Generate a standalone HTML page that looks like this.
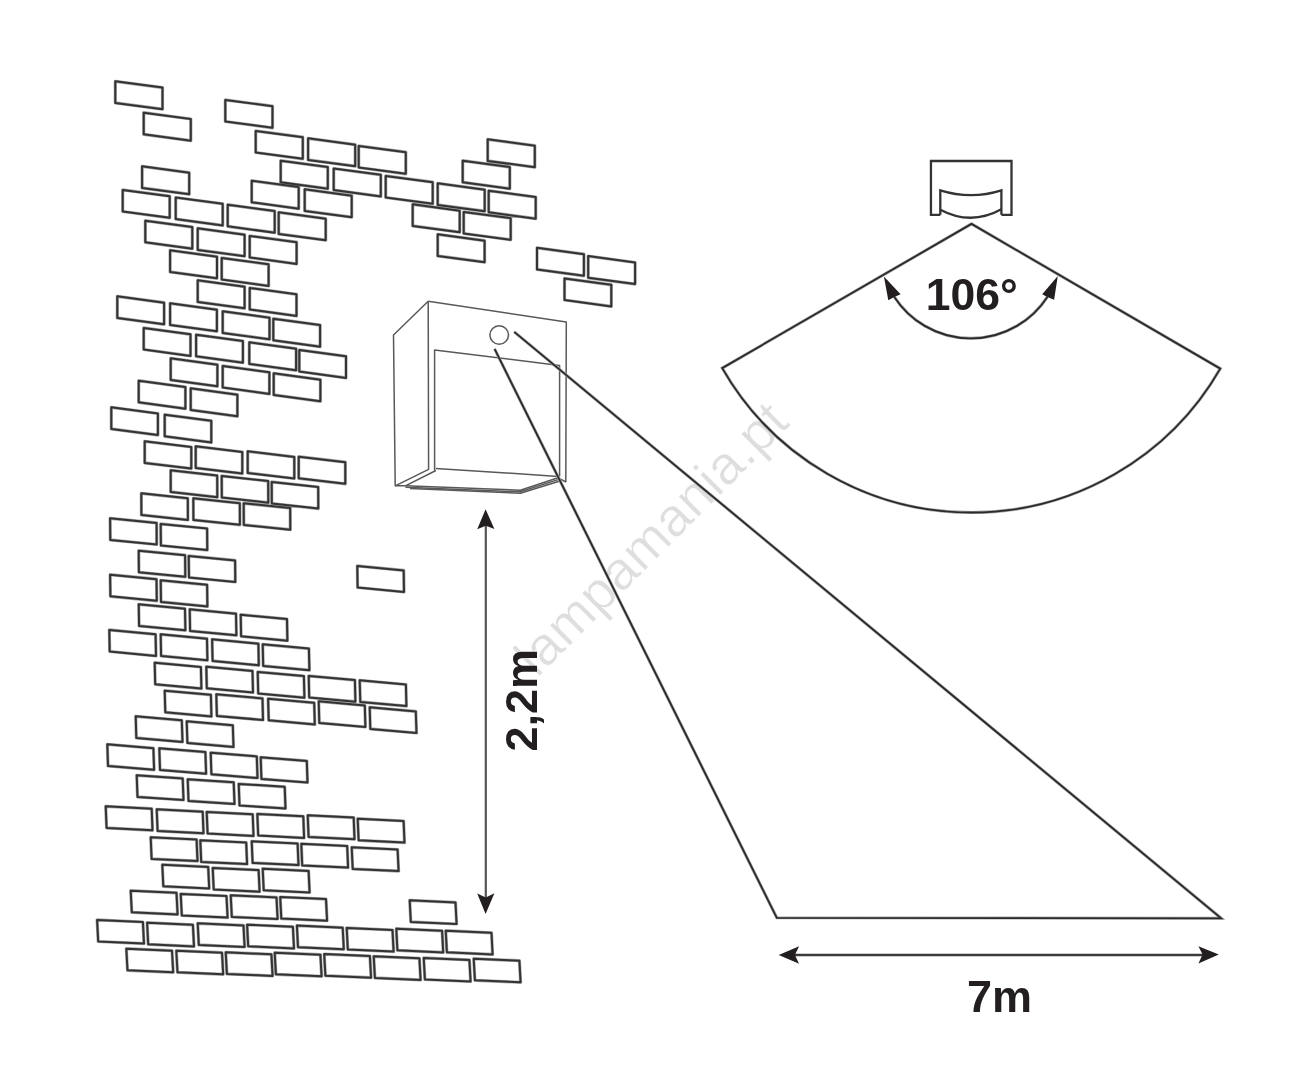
<!DOCTYPE html>
<html><head><meta charset="utf-8">
<style>
html,body{margin:0;padding:0;background:#fff;}
body{width:1306px;height:1080px;overflow:hidden;position:relative;}
svg{position:absolute;left:0;top:0;will-change:transform;}

</style></head><body>
<svg width="1306" height="1080" viewBox="0 0 1306 1080">
<!-- watermark -->
<text x="0" y="0" transform="translate(537,678.5) rotate(-45)" font-family="Liberation Sans, sans-serif" font-size="54" letter-spacing="0.42" fill="#dedede" stroke="#fff" stroke-width="0.5">lampamania.pt</text>
<!-- bricks -->
<path d="M115.3 81.3L162.5 87.6L162.5 109.2L115.3 102.9ZM143.7 112.7L190.8 119.0L190.8 140.7L143.7 134.3ZM225.3 99.9L272.5 106.2L272.5 127.8L225.3 121.5ZM255.7 130.9L302.8 137.2L302.8 158.8L255.7 152.5ZM308.1 138.3L355.2 144.7L355.2 166.2L308.1 159.9ZM358.7 145.9L405.8 152.2L405.8 173.8L358.7 167.5ZM487.7 139.3L534.8 145.7L534.8 167.2L487.7 160.9ZM280.7 160.7L327.8 167.1L327.8 188.7L280.7 182.3ZM333.7 168.5L380.8 174.8L380.8 196.4L333.7 190.1ZM385.7 175.9L432.7 182.2L432.7 203.8L385.7 197.5ZM437.7 183.3L484.7 189.7L484.7 211.2L437.7 204.9ZM462.7 160.7L509.8 167.1L509.8 188.7L462.7 182.3ZM142.1 166.3L189.2 172.7L189.2 194.2L142.1 187.9ZM251.7 180.7L298.7 187.1L298.7 208.7L251.7 202.3ZM304.7 189.3L351.7 195.7L351.7 217.2L304.7 210.9ZM488.7 190.7L535.7 197.1L535.7 218.7L488.7 212.3ZM122.7 189.9L169.7 196.2L169.7 217.8L122.7 211.5ZM175.7 197.5L222.7 203.8L222.7 225.4L175.7 219.1ZM227.7 204.7L274.7 211.1L274.7 232.7L227.7 226.3ZM278.7 212.3L325.7 218.7L325.7 240.2L278.7 233.9ZM412.7 204.3L459.7 210.7L459.7 232.2L412.7 225.9ZM463.7 211.9L510.7 218.2L510.7 239.8L463.7 233.5ZM145.3 220.7L192.3 227.1L192.3 248.7L145.3 242.3ZM197.7 228.3L244.6 234.7L244.6 256.2L197.7 249.9ZM249.7 235.9L296.6 242.2L296.6 263.9L249.7 257.5ZM437.7 234.3L484.6 240.7L484.6 262.2L437.7 255.9ZM170.1 250.3L217.0 256.7L217.0 278.3L170.1 271.9ZM221.7 257.9L268.6 264.3L268.6 285.9L221.7 279.5ZM537.0 247.8L583.9 254.2L583.9 275.8L537.0 269.4ZM588.2 256.1L635.1 262.5L635.1 284.1L588.2 277.8ZM564.5 278.4L611.3 284.8L611.3 306.4L564.5 300.0ZM197.7 280.3L244.6 286.7L244.6 308.3L197.7 301.9ZM249.7 287.9L296.5 294.3L296.5 315.9L249.7 309.5ZM117.3 296.3L164.1 302.7L164.1 324.3L117.3 317.9ZM170.1 303.3L216.9 309.7L216.9 331.3L170.1 324.9ZM222.7 311.3L269.5 317.7L269.5 339.3L222.7 332.9ZM273.3 318.7L320.1 325.1L320.1 346.7L273.3 340.3ZM143.7 327.9L190.5 334.3L190.5 355.9L143.7 349.5ZM196.1 334.7L242.9 341.1L242.9 362.7L196.1 356.3ZM249.3 342.3L296.1 348.7L296.1 370.3L249.3 363.9ZM299.3 349.9L346.0 356.3L346.0 377.9L299.3 371.5ZM170.7 358.3L217.4 364.7L217.4 386.3L170.7 379.9ZM222.7 365.9L269.4 372.3L269.4 393.9L222.7 387.5ZM273.7 373.3L320.4 379.7L320.4 401.3L273.7 394.9ZM138.7 380.7L185.4 387.1L185.4 408.7L138.7 402.3ZM190.7 388.3L237.4 394.7L237.4 416.3L190.7 409.9ZM111.3 407.3L157.9 413.5L157.9 435.1L111.3 428.9ZM164.7 414.7L211.3 420.8L211.3 442.4L164.7 436.3ZM144.7 441.3L191.3 447.0L191.3 468.6L144.7 462.9ZM195.7 446.3L242.3 452.0L242.3 473.6L195.7 467.9ZM247.7 451.3L294.3 456.9L294.3 478.5L247.7 472.9ZM298.7 456.7L345.3 462.2L345.3 483.8L298.7 478.3ZM170.7 470.3L217.2 475.6L217.3 497.2L170.7 491.9ZM221.7 475.9L268.2 481.1L268.3 502.7L221.8 497.5ZM271.7 481.9L318.2 487.0L318.3 508.6L271.8 503.5ZM141.3 493.3L187.8 498.3L187.9 519.9L141.4 514.9ZM193.3 498.3L239.8 503.2L239.9 524.8L193.4 519.9ZM243.7 503.3L290.2 508.1L290.3 529.7L243.8 524.9ZM110.1 518.3L156.6 522.9L156.7 544.5L110.3 539.9ZM160.7 523.9L207.1 528.5L207.3 550.1L160.9 545.5ZM138.7 550.7L185.1 555.2L185.3 576.8L138.9 572.3ZM188.7 555.9L235.1 560.4L235.3 582.0L189.0 577.5ZM357.3 565.9L403.7 570.4L404.0 592.0L357.6 587.5ZM110.1 574.7L156.5 579.2L156.8 600.8L110.4 596.3ZM160.7 580.3L207.1 584.8L207.4 606.4L161.0 601.9ZM138.7 604.3L185.0 608.7L185.4 630.3L139.1 625.9ZM189.7 609.3L236.0 613.7L236.4 635.3L190.1 630.9ZM240.7 614.7L287.0 619.1L287.4 640.7L241.1 636.3ZM109.3 629.9L155.6 634.3L156.0 655.9L109.7 651.5ZM160.7 634.3L207.0 638.7L207.4 660.3L161.1 655.9ZM212.1 639.3L258.4 643.7L258.8 665.3L212.6 660.9ZM262.7 644.3L308.9 648.6L309.4 670.2L263.2 665.9ZM154.7 662.7L200.9 667.0L201.4 688.6L155.2 684.3ZM206.3 666.7L252.5 670.9L253.0 692.5L206.8 688.3ZM257.7 671.9L303.9 676.1L304.4 697.7L258.2 693.5ZM308.7 675.9L354.9 680.1L355.4 701.7L309.2 697.5ZM359.7 680.3L405.9 684.5L406.4 706.1L360.3 701.9ZM164.7 690.7L210.9 694.8L211.4 716.4L165.3 712.3ZM216.3 694.3L262.5 698.4L263.0 720.0L216.9 715.9ZM268.1 698.7L314.2 702.8L314.8 724.4L268.7 720.3ZM318.7 701.3L364.8 705.4L365.4 727.0L319.3 722.9ZM369.7 707.3L415.8 711.4L416.5 733.0L370.3 728.9ZM135.7 716.3L181.8 720.3L182.5 741.9L136.3 737.9ZM186.7 721.3L232.8 725.3L233.5 746.9L187.4 742.9ZM107.3 744.3L153.4 748.2L154.1 769.8L108.0 765.9ZM159.3 748.3L205.4 752.1L206.1 773.7L160.0 769.9ZM210.7 752.7L256.8 756.4L257.5 778.0L211.4 774.3ZM260.7 757.3L306.8 760.9L307.5 782.5L261.4 778.9ZM136.7 775.3L182.7 778.4L183.5 800.0L137.5 796.9ZM187.7 779.3L233.7 782.3L234.5 803.9L188.5 800.9ZM238.7 783.9L284.7 786.8L285.5 808.4L239.5 805.5ZM105.7 806.3L151.7 808.7L152.5 830.3L106.6 827.9ZM156.7 809.3L202.7 811.7L203.5 833.3L157.6 830.9ZM206.7 811.9L252.7 814.3L253.5 835.9L207.6 833.5ZM257.3 813.9L303.3 816.3L304.1 837.9L258.2 835.5ZM307.7 815.3L353.7 817.6L354.5 839.2L308.6 836.9ZM357.7 818.7L403.6 821.0L404.5 842.6L358.6 840.3ZM150.7 837.3L196.6 839.5L197.5 861.1L151.6 858.9ZM200.3 840.3L246.2 842.5L247.1 864.1L201.2 861.9ZM251.7 841.3L297.6 843.5L298.5 865.1L252.6 862.9ZM301.3 843.8L347.2 846.0L348.1 867.6L302.2 865.4ZM351.7 847.3L397.6 849.5L398.6 871.1L352.7 868.9ZM162.3 864.7L208.2 866.9L209.2 888.5L163.3 886.3ZM212.7 867.9L258.6 870.1L259.6 891.7L213.7 889.5ZM262.7 868.7L308.6 870.9L309.6 892.5L263.7 890.3ZM130.7 890.7L176.5 892.8L177.6 914.4L131.8 912.3ZM180.7 893.9L226.5 896.0L227.6 917.6L181.8 915.5ZM230.7 895.3L276.5 897.4L277.6 919.0L231.8 916.9ZM280.2 897.0L326.0 899.1L327.1 920.7L281.3 918.6ZM409.7 900.3L455.5 902.4L456.6 924.0L410.8 921.9ZM97.1 919.9L142.9 922.0L144.0 943.6L98.2 941.5ZM147.1 922.7L192.9 924.8L194.0 946.4L148.2 944.3ZM197.7 923.3L243.5 925.4L244.6 947.0L198.8 944.9ZM247.1 924.7L292.9 926.8L294.0 948.4L248.2 946.3ZM296.9 925.6L342.7 927.7L343.8 949.3L298.0 947.2ZM346.7 927.9L392.5 930.0L393.6 951.6L347.8 949.5ZM396.3 928.7L442.1 930.8L443.2 952.4L397.4 950.3ZM445.7 930.7L491.5 932.8L492.6 954.4L446.9 952.3ZM126.3 948.7L172.0 950.7L173.2 972.3L127.5 970.3ZM176.3 950.7L222.0 952.7L223.2 974.3L177.5 972.3ZM225.7 952.3L271.4 954.3L272.6 975.9L226.9 973.9ZM274.7 952.7L320.4 954.7L321.6 976.3L275.9 974.3ZM324.2 954.1L369.9 956.1L371.1 977.7L325.4 975.7ZM373.7 956.3L419.4 958.3L420.6 979.9L374.9 977.9ZM423.7 957.9L469.4 959.9L470.6 981.5L424.9 979.5ZM473.7 958.7L519.4 960.7L520.6 982.3L474.9 980.3Z" fill="none" stroke="#a8a8a8" stroke-width="3.2" stroke-linejoin="round"/>
<path d="M115.3 81.3L162.5 87.6L162.5 109.2L115.3 102.9ZM143.7 112.7L190.8 119.0L190.8 140.7L143.7 134.3ZM225.3 99.9L272.5 106.2L272.5 127.8L225.3 121.5ZM255.7 130.9L302.8 137.2L302.8 158.8L255.7 152.5ZM308.1 138.3L355.2 144.7L355.2 166.2L308.1 159.9ZM358.7 145.9L405.8 152.2L405.8 173.8L358.7 167.5ZM487.7 139.3L534.8 145.7L534.8 167.2L487.7 160.9ZM280.7 160.7L327.8 167.1L327.8 188.7L280.7 182.3ZM333.7 168.5L380.8 174.8L380.8 196.4L333.7 190.1ZM385.7 175.9L432.7 182.2L432.7 203.8L385.7 197.5ZM437.7 183.3L484.7 189.7L484.7 211.2L437.7 204.9ZM462.7 160.7L509.8 167.1L509.8 188.7L462.7 182.3ZM142.1 166.3L189.2 172.7L189.2 194.2L142.1 187.9ZM251.7 180.7L298.7 187.1L298.7 208.7L251.7 202.3ZM304.7 189.3L351.7 195.7L351.7 217.2L304.7 210.9ZM488.7 190.7L535.7 197.1L535.7 218.7L488.7 212.3ZM122.7 189.9L169.7 196.2L169.7 217.8L122.7 211.5ZM175.7 197.5L222.7 203.8L222.7 225.4L175.7 219.1ZM227.7 204.7L274.7 211.1L274.7 232.7L227.7 226.3ZM278.7 212.3L325.7 218.7L325.7 240.2L278.7 233.9ZM412.7 204.3L459.7 210.7L459.7 232.2L412.7 225.9ZM463.7 211.9L510.7 218.2L510.7 239.8L463.7 233.5ZM145.3 220.7L192.3 227.1L192.3 248.7L145.3 242.3ZM197.7 228.3L244.6 234.7L244.6 256.2L197.7 249.9ZM249.7 235.9L296.6 242.2L296.6 263.9L249.7 257.5ZM437.7 234.3L484.6 240.7L484.6 262.2L437.7 255.9ZM170.1 250.3L217.0 256.7L217.0 278.3L170.1 271.9ZM221.7 257.9L268.6 264.3L268.6 285.9L221.7 279.5ZM537.0 247.8L583.9 254.2L583.9 275.8L537.0 269.4ZM588.2 256.1L635.1 262.5L635.1 284.1L588.2 277.8ZM564.5 278.4L611.3 284.8L611.3 306.4L564.5 300.0ZM197.7 280.3L244.6 286.7L244.6 308.3L197.7 301.9ZM249.7 287.9L296.5 294.3L296.5 315.9L249.7 309.5ZM117.3 296.3L164.1 302.7L164.1 324.3L117.3 317.9ZM170.1 303.3L216.9 309.7L216.9 331.3L170.1 324.9ZM222.7 311.3L269.5 317.7L269.5 339.3L222.7 332.9ZM273.3 318.7L320.1 325.1L320.1 346.7L273.3 340.3ZM143.7 327.9L190.5 334.3L190.5 355.9L143.7 349.5ZM196.1 334.7L242.9 341.1L242.9 362.7L196.1 356.3ZM249.3 342.3L296.1 348.7L296.1 370.3L249.3 363.9ZM299.3 349.9L346.0 356.3L346.0 377.9L299.3 371.5ZM170.7 358.3L217.4 364.7L217.4 386.3L170.7 379.9ZM222.7 365.9L269.4 372.3L269.4 393.9L222.7 387.5ZM273.7 373.3L320.4 379.7L320.4 401.3L273.7 394.9ZM138.7 380.7L185.4 387.1L185.4 408.7L138.7 402.3ZM190.7 388.3L237.4 394.7L237.4 416.3L190.7 409.9ZM111.3 407.3L157.9 413.5L157.9 435.1L111.3 428.9ZM164.7 414.7L211.3 420.8L211.3 442.4L164.7 436.3ZM144.7 441.3L191.3 447.0L191.3 468.6L144.7 462.9ZM195.7 446.3L242.3 452.0L242.3 473.6L195.7 467.9ZM247.7 451.3L294.3 456.9L294.3 478.5L247.7 472.9ZM298.7 456.7L345.3 462.2L345.3 483.8L298.7 478.3ZM170.7 470.3L217.2 475.6L217.3 497.2L170.7 491.9ZM221.7 475.9L268.2 481.1L268.3 502.7L221.8 497.5ZM271.7 481.9L318.2 487.0L318.3 508.6L271.8 503.5ZM141.3 493.3L187.8 498.3L187.9 519.9L141.4 514.9ZM193.3 498.3L239.8 503.2L239.9 524.8L193.4 519.9ZM243.7 503.3L290.2 508.1L290.3 529.7L243.8 524.9ZM110.1 518.3L156.6 522.9L156.7 544.5L110.3 539.9ZM160.7 523.9L207.1 528.5L207.3 550.1L160.9 545.5ZM138.7 550.7L185.1 555.2L185.3 576.8L138.9 572.3ZM188.7 555.9L235.1 560.4L235.3 582.0L189.0 577.5ZM357.3 565.9L403.7 570.4L404.0 592.0L357.6 587.5ZM110.1 574.7L156.5 579.2L156.8 600.8L110.4 596.3ZM160.7 580.3L207.1 584.8L207.4 606.4L161.0 601.9ZM138.7 604.3L185.0 608.7L185.4 630.3L139.1 625.9ZM189.7 609.3L236.0 613.7L236.4 635.3L190.1 630.9ZM240.7 614.7L287.0 619.1L287.4 640.7L241.1 636.3ZM109.3 629.9L155.6 634.3L156.0 655.9L109.7 651.5ZM160.7 634.3L207.0 638.7L207.4 660.3L161.1 655.9ZM212.1 639.3L258.4 643.7L258.8 665.3L212.6 660.9ZM262.7 644.3L308.9 648.6L309.4 670.2L263.2 665.9ZM154.7 662.7L200.9 667.0L201.4 688.6L155.2 684.3ZM206.3 666.7L252.5 670.9L253.0 692.5L206.8 688.3ZM257.7 671.9L303.9 676.1L304.4 697.7L258.2 693.5ZM308.7 675.9L354.9 680.1L355.4 701.7L309.2 697.5ZM359.7 680.3L405.9 684.5L406.4 706.1L360.3 701.9ZM164.7 690.7L210.9 694.8L211.4 716.4L165.3 712.3ZM216.3 694.3L262.5 698.4L263.0 720.0L216.9 715.9ZM268.1 698.7L314.2 702.8L314.8 724.4L268.7 720.3ZM318.7 701.3L364.8 705.4L365.4 727.0L319.3 722.9ZM369.7 707.3L415.8 711.4L416.5 733.0L370.3 728.9ZM135.7 716.3L181.8 720.3L182.5 741.9L136.3 737.9ZM186.7 721.3L232.8 725.3L233.5 746.9L187.4 742.9ZM107.3 744.3L153.4 748.2L154.1 769.8L108.0 765.9ZM159.3 748.3L205.4 752.1L206.1 773.7L160.0 769.9ZM210.7 752.7L256.8 756.4L257.5 778.0L211.4 774.3ZM260.7 757.3L306.8 760.9L307.5 782.5L261.4 778.9ZM136.7 775.3L182.7 778.4L183.5 800.0L137.5 796.9ZM187.7 779.3L233.7 782.3L234.5 803.9L188.5 800.9ZM238.7 783.9L284.7 786.8L285.5 808.4L239.5 805.5ZM105.7 806.3L151.7 808.7L152.5 830.3L106.6 827.9ZM156.7 809.3L202.7 811.7L203.5 833.3L157.6 830.9ZM206.7 811.9L252.7 814.3L253.5 835.9L207.6 833.5ZM257.3 813.9L303.3 816.3L304.1 837.9L258.2 835.5ZM307.7 815.3L353.7 817.6L354.5 839.2L308.6 836.9ZM357.7 818.7L403.6 821.0L404.5 842.6L358.6 840.3ZM150.7 837.3L196.6 839.5L197.5 861.1L151.6 858.9ZM200.3 840.3L246.2 842.5L247.1 864.1L201.2 861.9ZM251.7 841.3L297.6 843.5L298.5 865.1L252.6 862.9ZM301.3 843.8L347.2 846.0L348.1 867.6L302.2 865.4ZM351.7 847.3L397.6 849.5L398.6 871.1L352.7 868.9ZM162.3 864.7L208.2 866.9L209.2 888.5L163.3 886.3ZM212.7 867.9L258.6 870.1L259.6 891.7L213.7 889.5ZM262.7 868.7L308.6 870.9L309.6 892.5L263.7 890.3ZM130.7 890.7L176.5 892.8L177.6 914.4L131.8 912.3ZM180.7 893.9L226.5 896.0L227.6 917.6L181.8 915.5ZM230.7 895.3L276.5 897.4L277.6 919.0L231.8 916.9ZM280.2 897.0L326.0 899.1L327.1 920.7L281.3 918.6ZM409.7 900.3L455.5 902.4L456.6 924.0L410.8 921.9ZM97.1 919.9L142.9 922.0L144.0 943.6L98.2 941.5ZM147.1 922.7L192.9 924.8L194.0 946.4L148.2 944.3ZM197.7 923.3L243.5 925.4L244.6 947.0L198.8 944.9ZM247.1 924.7L292.9 926.8L294.0 948.4L248.2 946.3ZM296.9 925.6L342.7 927.7L343.8 949.3L298.0 947.2ZM346.7 927.9L392.5 930.0L393.6 951.6L347.8 949.5ZM396.3 928.7L442.1 930.8L443.2 952.4L397.4 950.3ZM445.7 930.7L491.5 932.8L492.6 954.4L446.9 952.3ZM126.3 948.7L172.0 950.7L173.2 972.3L127.5 970.3ZM176.3 950.7L222.0 952.7L223.2 974.3L177.5 972.3ZM225.7 952.3L271.4 954.3L272.6 975.9L226.9 973.9ZM274.7 952.7L320.4 954.7L321.6 976.3L275.9 974.3ZM324.2 954.1L369.9 956.1L371.1 977.7L325.4 975.7ZM373.7 956.3L419.4 958.3L420.6 979.9L374.9 977.9ZM423.7 957.9L469.4 959.9L470.6 981.5L424.9 979.5ZM473.7 958.7L519.4 960.7L520.6 982.3L474.9 980.3Z" fill="none" stroke="#333" stroke-width="2.0" stroke-linejoin="round"/>
<!-- lamp -->
<g fill="none" stroke="#595959" stroke-width="1.5" stroke-linejoin="round">
<path d="M428.2 301.3L566.3 321.9L565.8 482"/>
<path d="M428.2 301.3L393.5 335L395.2 485.8L428.6 469.3L428.2 301.3"/>
<path d="M434.6 470.5L434.6 350L559.6 365.4L559.6 476.4"/>
<path d="M435.9 468.4L558.1 476.4"/>
<path d="M435.9 470.5L405.4 485.8"/>
<path d="M395.2 485.8L405.4 485.8L520.3 490.2L558.1 477.8L566 482"/>
<path d="M405.4 487.2L520.3 491.8L558.1 479.6"/>
<path d="M410 488.6L520.3 493.2L560 481"/>
<circle cx="499.2" cy="335" r="9.3"/>
</g>
<!-- detection triangle -->
<path d="M494.6 348.9L776.8 917.8L1221.2 918.3L514.2 331.9" fill="none" stroke="#a8a8a8" stroke-width="3.1"/>
<path d="M494.6 348.9L776.8 917.8L1221.2 918.3L514.2 331.9" fill="none" stroke="#2a2a2a" stroke-width="1.8"/>
<!-- height arrow -->
<g stroke="#231f20" fill="#231f20">
<line x1="485.8" y1="524" x2="485.8" y2="899" stroke-width="2.2" stroke="#555"/>
<path d="M485.6 509.2L494.4 528.9L485.8 525.8L477.2 529.2Z" stroke="none"/>
<path d="M485.6 913.9L494.4 893.3L485.8 897.5L477.2 893.6Z" stroke="none"/>
</g>
<!-- width arrow -->
<g stroke="#231f20" fill="#231f20">
<line x1="793" y1="955" x2="1204" y2="955" stroke-width="2.4" stroke="#3a3a3a"/>
<path d="M778.7 955.1L799.1 946.3L794.9 955.1L799.1 963.8Z" stroke="none"/>
<path d="M1218.8 954.6L1198.4 946.2L1202.6 954.6L1198.4 963.6Z" stroke="none"/>
</g>
<!-- sensor -->
<g fill="none" stroke="#333" stroke-width="2.3" stroke-linejoin="miter">
<path d="M940.3 214.8L930.95 214.8L930.95 161L1011.5 161L1011.5 214.8L1001.4 214.8"/>
<path d="M940.3 214.8L940.3 190.4Q971 200 1001.4 190.4L1001.4 214.8"/>
<path d="M940.3 209.7Q971 226 1001.4 209.3"/>
</g>
<!-- fan -->
<g fill="none" stroke="#a8a8a8" stroke-width="3.1">
<path d="M722.2 368.1L971.5 223.9L1220.3 368.6A287.2 287.2 0 0 1 722.2 368.1Z"/>
<path d="M894.3 296.9A91.35 91.35 0 0 0 1047.4 296.9"/>
</g>
<g fill="none" stroke="#2a2a2a" stroke-width="1.8">
<path d="M722.2 368.1L971.5 223.9L1220.3 368.6A287.2 287.2 0 0 1 722.2 368.1Z"/>
<path d="M894.3 296.9A91.35 91.35 0 0 0 1047.4 296.9"/>
</g>
<g fill="#231f20">
<path d="M883.9 276.5L900.6 294.3L894.3 296.9L888.3 300.2Z"/>
<path d="M1057.8 276.1L1042.2 294.3L1047.4 296.9L1054.1 299.8Z"/>
</g>
<g font-family="Liberation Sans, sans-serif" font-weight="bold" fill="#231f20" font-size="45">
<text x="925.8" y="310" font-size="44.5">106°</text>
<text x="967" y="1011.7">7m</text>
<text transform="translate(536.5,751.5) rotate(-90)" x="0" y="0">2,2m</text>
</g>
</svg>
</body></html>
